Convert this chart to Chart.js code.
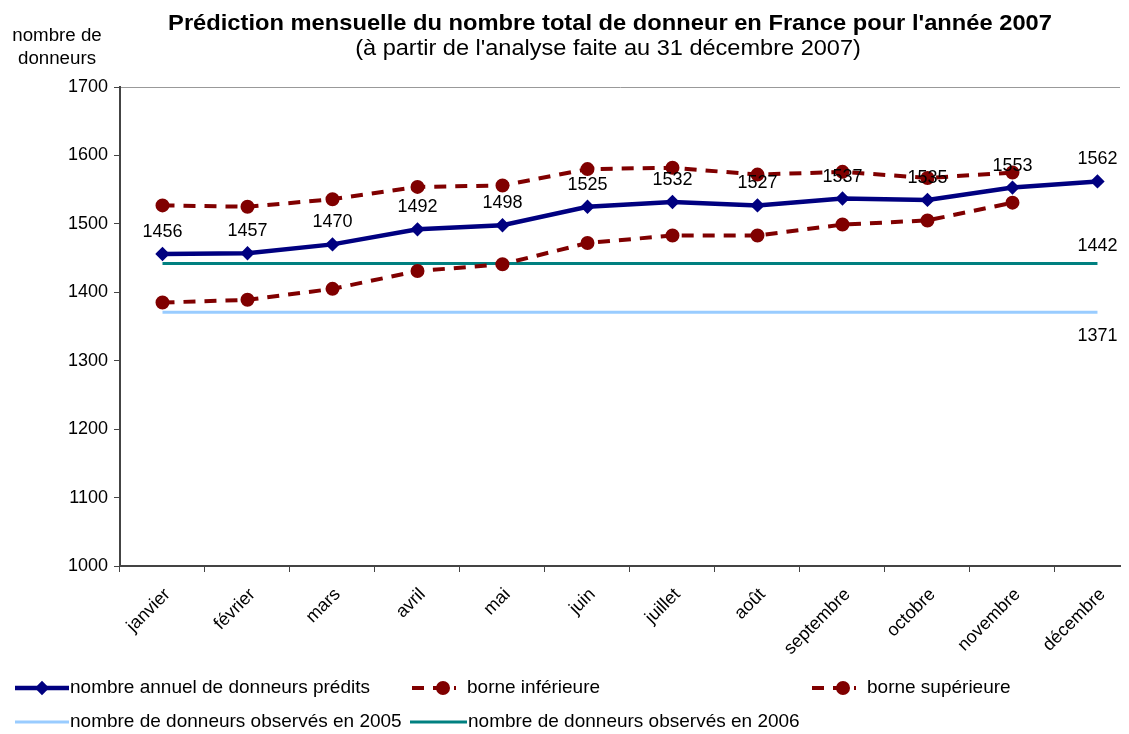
<!DOCTYPE html>
<html>
<head>
<meta charset="utf-8">
<script src="https://cdn.jsdelivr.net/npm/chart.js@4/dist/chart.umd.min.js"></script>
<style>
    body { margin: 0; background: #fff; }
    canvas { display: block; }
</style>
</head>
<body>
<canvas id="chart" width="1129" height="734"></canvas>
<script>
const months = ["janvier", "février", "mars", "avril", "mai", "juin", "juillet", "août", "septembre", "octobre", "novembre", "décembre"]
const predits = [1456, 1457, 1470, 1492, 1498, 1525, 1532, 1527, 1537, 1535, 1553, 1562]
const borneInf = [1385, 1389, 1405, 1431, 1441, 1472, 1483, 1483, 1499, 1505, 1531, null]
const borneSup = [1527, 1525, 1536, 1554, 1556, 1580, 1582, 1572, 1576, 1567, 1575, null]
const obs2005 = [1371, 1371, 1371, 1371, 1371, 1371, 1371, 1371, 1371, 1371, 1371, 1371]
const obs2006 = [1442, 1442, 1442, 1442, 1442, 1442, 1442, 1442, 1442, 1442, 1442, 1442]
const yTicks = [1000, 1100, 1200, 1300, 1400, 1500, 1600, 1700]

const FONT = '"Liberation Sans", Arial, sans-serif'
Chart.defaults.font.family = FONT
Chart.defaults.font.size = 18
Chart.defaults.color = '#000'

function toPoints(arr) {
    return arr.map((v, i) => ({ x: i, y: v }))
}

// text a bit wider than Arial, like the original rendering
function wideText(c, text, x, y, sx) {
    c.save()
    c.translate(x, y)
    c.scale(sx, 1)
    c.fillText(text, 0, 0)
    c.restore()
}

// title, y axis caption
const titles = {
    id: 'titles',
    afterDraw(chart) {
        const c = chart.ctx
        c.save()
        c.fillStyle = '#000'
        c.textAlign = 'center'
        c.textBaseline = 'alphabetic'
        c.font = 'bold 22px ' + FONT
        wideText(c, "Prédiction mensuelle du nombre total de donneur en France pour l'année 2007", 610, 30, 1.077)
        c.font = '22px ' + FONT
        wideText(c, "(à partir de l'analyse faite au 31 décembre 2007)", 608, 55, 1.07)
        c.font = '18px ' + FONT
        wideText(c, 'nombre de', 57, 41, 1.04)
        wideText(c, 'donneurs', 57, 64, 1.04)
        c.restore()
    }
}

// value labels next to points
const valueLabels = {
    id: 'valueLabels',
    afterDatasetsDraw(chart) {
        const c = chart.ctx
        c.save()
        c.fillStyle = '#000'
        c.textAlign = 'center'
        c.textBaseline = 'alphabetic'
        c.font = '18px ' + FONT
        chart.data.datasets.forEach((ds, di) => {
            if (!ds.valueLabel) return
            const meta = chart.getDatasetMeta(di)
            meta.data.forEach((pt, i) => {
                if (ds.valueLabel === 'last' && i !== ds.data.length - 1) return
                const v = ds.data[i].y
                if (v == null) return
                c.fillText(String(v), pt.x, pt.y + ds.labelOffset)
            })
        })
        c.restore()
    }
}

// legend laid out like the original
const legendBox = {
    id: 'legendBox',
    afterDraw(chart) {
        const c = chart.ctx
        const ds = chart.data.datasets
        const items = [
            { d: ds[0], x: 15, w: 54, y: 688 },
            { d: ds[1], x: 412, w: 44, y: 688 },
            { d: ds[2], x: 812, w: 44, y: 688 },
            { d: ds[3], x: 15, w: 54, y: 722 },
            { d: ds[4], x: 410, w: 57, y: 722 }
        ]
        c.save()
        c.font = '19px ' + FONT
        c.textBaseline = 'middle'
        items.forEach(it => {
            const d = it.d
            c.strokeStyle = d.borderColor
            c.lineWidth = d.borderWidth
            c.setLineDash(d.borderDash || [])
            c.beginPath()
            c.moveTo(it.x, it.y)
            c.lineTo(it.x + it.w, it.y)
            c.stroke()
            c.setLineDash([])
            if (d.pointRadius > 0) {
                c.fillStyle = d.pointBackgroundColor
                c.strokeStyle = d.pointBorderColor
                Chart.helpers.drawPoint(c, {
                    pointStyle: d.pointStyle,
                    radius: d.pointRadius,
                    borderWidth: 1
                }, it.x + it.w / 2 + (d.borderDash ? 9 : 0), it.y)
            }
            c.fillStyle = '#000'
            c.fillText(d.label, it.x + it.w + (d.borderDash ? 11 : 1), it.y)
        })
        c.restore()
    }
}

const ctx = document.getElementById('chart')
const chart = new Chart(ctx, {
    type: 'line',
    data: {
        datasets: [{
            label: 'nombre annuel de donneurs prédits',
            data: toPoints(predits),
            borderColor: '#000080',
            backgroundColor: '#000080',
            borderWidth: 4.5,
            pointStyle: 'rectRot',
            pointRadius: 4,
            pointBackgroundColor: '#000080',
            pointBorderColor: '#000080',
            valueLabel: 'all',
            labelOffset: -17
        }, {
            label: 'borne inférieure',
            data: toPoints(borneInf),
            borderColor: '#800000',
            backgroundColor: '#800000',
            borderWidth: 4,
            borderDash: [12, 9],
            pointStyle: 'circle',
            pointRadius: 5,
            pointBackgroundColor: '#800000',
            pointBorderColor: '#800000'
        }, {
            label: 'borne supérieure',
            data: toPoints(borneSup),
            borderColor: '#800000',
            backgroundColor: '#800000',
            borderWidth: 4,
            borderDash: [12, 9],
            pointStyle: 'circle',
            pointRadius: 5,
            pointBackgroundColor: '#800000',
            pointBorderColor: '#800000'
        }, {
            label: 'nombre de donneurs observés en 2005',
            data: toPoints(obs2005),
            borderColor: '#99ccff',
            backgroundColor: '#99ccff',
            borderWidth: 3,
            pointRadius: 0,
            valueLabel: 'last',
            labelOffset: 29
        }, {
            label: 'nombre de donneurs observés en 2006',
            data: toPoints(obs2006),
            borderColor: '#008080',
            backgroundColor: '#008080',
            borderWidth: 3,
            pointRadius: 0,
            valueLabel: 'last',
            labelOffset: -13
        }]
    },
    options: {
        responsive: false,
        animation: false,
        events: [],
        layout: { padding: { top: 87, left: 0, right: 0, bottom: 0 } },
        plugins: {
            legend: { display: false },
            tooltip: { enabled: false }
        },
        scales: {
            x: {
                type: 'linear',
                min: -0.5,
                max: 11.265,
                afterBuildTicks(scale) {
                    scale.ticks = months.map((m, i) => ({ value: i }))
                },
                afterFit(scale) {
                    scale.height = 168
                },
                ticks: {
                    autoSkip: false,
                    minRotation: 45,
                    maxRotation: 45,
                    padding: 12,
                    labelOffset: 5,
                    font: { size: 18 },
                    callback: (v) => months[v]
                },
                grid: {
                    offset: true,
                    drawOnChartArea: false,
                    tickLength: 6,
                    tickColor: '#444'
                },
                border: { color: '#444', width: 2 }
            },
            y: {
                min: 1000,
                max: 1700,
                afterBuildTicks(scale) {
                    scale.ticks = yTicks.map(v => ({ value: v }))
                },
                afterFit(scale) {
                    scale.width = 120
                },
                ticks: {
                    padding: 6,
                    font: { size: 18 },
                    callback: (v) => String(v)
                },
                grid: {
                    color: (c) => c.tick && c.tick.value === 1700 ? '#999' : 'rgba(0,0,0,0)',
                    tickColor: '#444',
                    tickLength: 6
                },
                border: { color: '#444', width: 2 }
            }
        }
    },
    plugins: [titles, valueLabels, legendBox]
})
</script>
</body>
</html>
